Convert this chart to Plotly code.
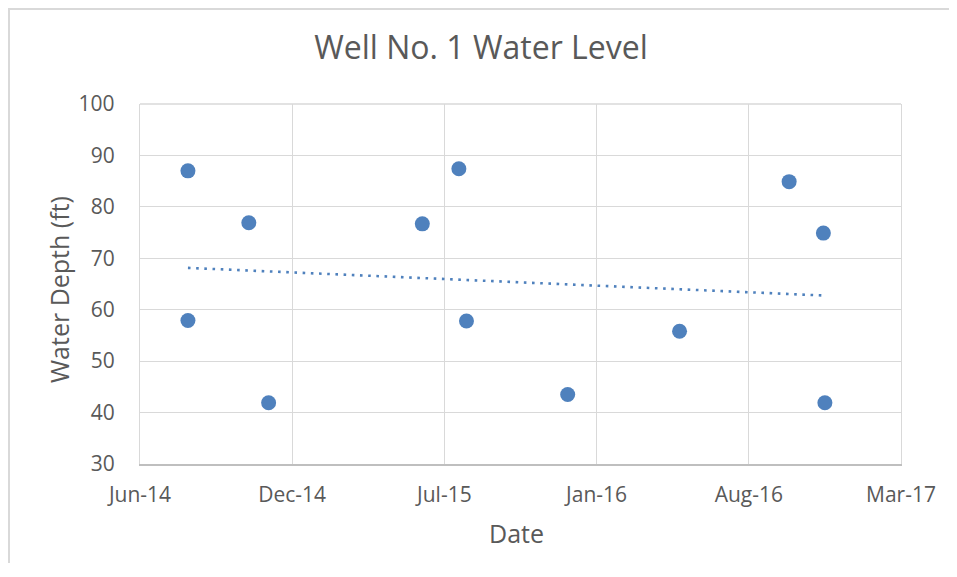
import numpy as np
import pandas as pd
import plotly.graph_objects as go

# Data
dates = ["2014-08-12", "2014-08-12", "2014-10-31", "2014-11-26", "2015-06-16",
         "2015-08-03", "2015-08-13", "2015-12-24", "2016-05-19", "2016-10-10",
         "2016-11-24", "2016-11-26"]
depths = [87.0, 57.9, 76.9, 41.9, 76.7, 87.4, 57.8, 43.5, 55.8, 84.9, 74.9, 41.9]

tick_dates = ["2014-06-10", "2014-12-27", "2015-07-15", "2016-01-31", "2016-08-18", "2017-03-06"]
tick_labels = ["Jun-14", "Dec-14", "Jul-15", "Jan-16", "Aug-16", "Mar-17"]
y_ticks = [30, 40, 50, 60, 70, 80, 90, 100]

title_text = "Well No. 1 Water Level"
x_title = "Date"
y_title = "Water Depth (ft)"

BLUE = "#4f81bd"
TEXT = "#595959"
GRID = "#d9d9d9"
FONT = "Open Sans"

# The page body adds an 8px margin, so the figure is drawn smaller to avoid overflow
W, H = 941, 555
L, R, T, B = 132, 48, 96, 99
PW, PH = W - L - R, H - T - B

# Linear trendline (least squares on day numbers)
d = pd.to_datetime(dates)
days = (d - d.min()).days.values.astype(float)
slope, intercept = np.polyfit(days, np.array(depths), 1)
trend_x = [d.min(), d.max()]
trend_y = [intercept, intercept + slope * days.max()]

fig = go.Figure()
fig.add_trace(go.Scatter(
    x=trend_x, y=trend_y, mode="lines",
    line=dict(color=BLUE, width=2.6, dash="2.6px,5.6px"),
    hoverinfo="skip", showlegend=False))
fig.add_trace(go.Scatter(
    x=d, y=depths, mode="markers",
    marker=dict(color=BLUE, size=15, line=dict(width=0)),
    showlegend=False))

def px_x(px):
    return (px - L) / PW

def px_y(py):
    return (H - B - py) / PH

fig.update_layout(
    width=W, height=H,
    paper_bgcolor="white", plot_bgcolor="white",
    margin=dict(l=L, r=R, t=T, b=B, autoexpand=False),
    font=dict(family=FONT, color=TEXT, size=21),
    title=dict(text=title_text, font=dict(family=FONT, size=32, color=TEXT),
               x=473 / W, xanchor="center", xref="container",
               y=1 - 40 / H, yanchor="middle", yref="container"),
    xaxis=dict(
        type="date",
        range=[tick_dates[0], tick_dates[-1]],
        tickmode="array", tickvals=tick_dates, ticktext=tick_labels,
        showgrid=True, gridcolor=GRID, gridwidth=1.3,
        showline=True, linecolor="#bfbfbf", linewidth=1.5,
        zeroline=False, ticks="", ticklabelstandoff=11,
        tickfont=dict(size=21, color=TEXT, family=FONT),
    ),
    yaxis=dict(
        range=[30, 100], tickmode="array", tickvals=y_ticks,
        showgrid=True, gridcolor=GRID, gridwidth=1.3,
        showline=True, mirror=True, linecolor=GRID, linewidth=1.3,
        zeroline=False, ticks="", ticklabelstandoff=20,
        tickfont=dict(size=21, color=TEXT, family=FONT),
    ),
    annotations=[
        dict(text=x_title, xref="paper", yref="paper", x=px_x(508.5), y=px_y(525),
             xanchor="center", yanchor="middle",
             showarrow=False, font=dict(size=25, color=TEXT, family=FONT)),
        dict(text=y_title, xref="paper", yref="paper", x=px_x(51), y=px_y(282),
             xanchor="center", yanchor="middle", textangle=-90,
             showarrow=False, font=dict(size=25, color=TEXT, family=FONT)),
    ],
    shapes=[
        # top edge of plot area
        dict(type="line", xref="paper", yref="paper", x0=0, x1=1, y0=1, y1=1,
             line=dict(color=GRID, width=1.3), layer="below"),
        # chart-area border: a frame whose right/bottom sides lie outside the page
        dict(type="rect", xref="paper", yref="paper",
             x0=px_x(1), x1=px_x(W + 30), y0=px_y(1), y1=px_y(H + 30),
             line=dict(color=GRID, width=2), fillcolor="rgba(0,0,0,0)"),
    ],
)

fig.write_html("out.html")
